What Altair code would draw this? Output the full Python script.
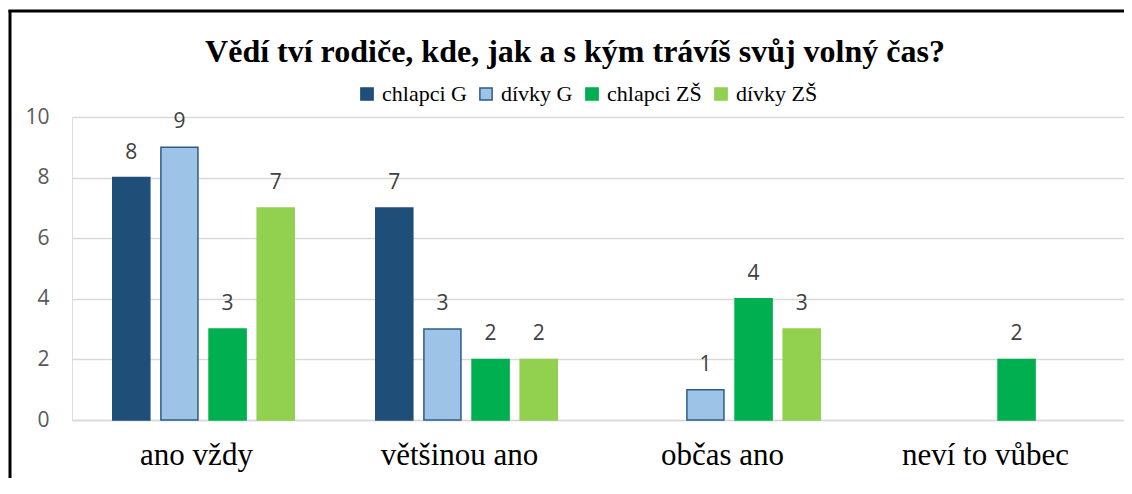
import altair as alt
import pandas as pd

title_text = "Vědí tví rodiče, kde, jak a s kým trávíš svůj volný čas?"
categories = ["ano vždy", "většinou ano", "občas ano", "neví to vůbec"]
series = ["chlapci G", "dívky G", "chlapci ZŠ", "dívky ZŠ"]
chlapci_G = [8, 7, None, None]
divky_G = [9, 3, 1, None]
chlapci_ZS = [3, 2, 4, 2]
divky_ZS = [7, 2, 3, None]
fill_colors = ["#1F4E79", "#9DC3E6", "#00B050", "#92D050"]
stroke_colors = ["#1F4E79", "#2E5C8A", "#00B050", "#92D050"]
y_ticks = [0, 2, 4, 6, 8, 10]

rows = []
for s, vals in zip(series, [chlapci_G, divky_G, chlapci_ZS, divky_ZS]):
    for c, v in zip(categories, vals):
        if v is not None:
            rows.append({"kategorie": c, "skupina": s, "hodnota": v})
df = pd.DataFrame(rows)

x_enc = alt.X("kategorie:N", sort=categories, title=None,
              scale=alt.Scale(paddingInner=0.31, paddingOuter=0.155),
              axis=alt.Axis(labelAngle=0, labelFont="Liberation Serif", labelFontSize=31,
                            labelColor="#000000", labelPadding=20, labelOffset=-7, ticks=False,
                            domain=True, domainColor="#D9D9D9", domainWidth=1.5))
xo_enc = alt.XOffset("skupina:N", sort=series,
                     scale=alt.Scale(paddingInner=0.23, paddingOuter=0))
y_enc = alt.Y("hodnota:Q", title=None,
              scale=alt.Scale(domain=[0, 10], nice=False),
              axis=alt.Axis(values=y_ticks, labelFont="Open Sans", labelFontSize=21,
                            labelColor="#595959", labelPadding=23, ticks=False, domain=False,
                            gridColor="#D9D9D9", gridWidth=1.5))

legend_cfg = dict(title=None, orient="none", direction="horizontal",
                  legendX=284, legendY=-34,
                  labelFont="Liberation Serif", labelFontSize=22,
                  labelColor="#000000", symbolType="square",
                  symbolSize=150, symbolStrokeWidth=1.5,
                  labelOffset=4, columnPadding=8)

bars = alt.Chart(df).mark_bar(strokeWidth=1.5).encode(
    x=x_enc, xOffset=xo_enc, y=y_enc,
    fill=alt.Fill("skupina:N", sort=series,
                  scale=alt.Scale(domain=series, range=fill_colors),
                  legend=alt.Legend(**legend_cfg)),
    stroke=alt.Stroke("skupina:N", sort=series,
                      scale=alt.Scale(domain=series, range=stroke_colors),
                      legend=alt.Legend(**legend_cfg)),
)

labels = alt.Chart(df).mark_text(baseline="bottom", dy=-15, font="Open Sans",
                                 fontSize=21, color="#404040").encode(
    x=alt.X("kategorie:N", sort=categories), xOffset=alt.XOffset("skupina:N", sort=series),
    y="hodnota:Q", text="hodnota:Q")

single = alt.Data(values=[{"t": title_text}])
title_mark = alt.Chart(single).mark_text(
    font="Liberation Serif", fontSize=32, fontWeight="bold", color="#000000",
    align="center", baseline="alphabetic").encode(
    x=alt.value(503), y=alt.value(-55), text="t:N")

frame_left = alt.Chart(single).mark_rule(color="#000000", strokeWidth=3).encode(
    x=alt.value(-62), y=alt.value(-107), y2=alt.value(400))
frame_top = alt.Chart(single).mark_rule(color="#000000", strokeWidth=3).encode(
    y=alt.value(-106), x=alt.value(-63.5), x2=alt.value(1100))

chart = alt.layer(bars, labels, title_mark, frame_left, frame_top).properties(
    width=1052, height=303,
    padding={"left": 64, "top": 109, "right": 0, "bottom": 58},
    autosize=alt.AutoSizeParams(type="none"),
).configure_view(stroke=None).configure(background="#FFFFFF")

chart.save("out.html", embed_options={"renderer": "svg", "actions": False})
